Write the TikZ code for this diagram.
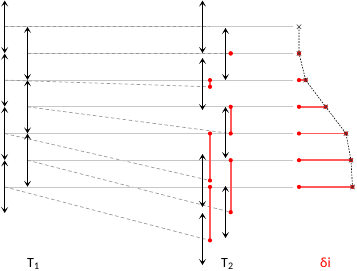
\documentclass[tikz,border=0pt]{standalone}
\usepackage{fontspec}
\setmainfont{Carlito}
\usetikzlibrary{arrows.meta,shapes.misc}
\newcommand{\lowsub}[1]{\raisebox{-2.2pt}{\fontsize{10}{10}\selectfont #1}}
\begin{document}
\begin{tikzpicture}[x=1pt,y=-1pt,
  period/.style={line width=1.2pt,
    {Stealth[length=6pt,width=7pt,inset=3pt]}-{Stealth[length=6pt,width=7pt,inset=3pt]}},
  gridline/.style={draw=black!22, line width=0.7pt},
  link/.style={draw=black!40, dash pattern=on 3.5pt off 2.5pt, line width=0.7pt},
  shiftline/.style={draw=red!65, line width=1.6pt},
  dot/.style={circle, fill=red, inner sep=0pt, minimum size=4.2pt},
  xmark/.style={cross out, draw=black!75, inner sep=0pt, minimum size=4pt, line width=0.5pt},
  trend/.style={draw=black, dash pattern=on 1.6pt off 1.3pt, line width=0.6pt},
  lbl/.style={font=\fontsize{14}{14}\selectfont, anchor=base west, inner sep=0pt}]
\useasboundingbox (0,0) rectangle (357,271);

% rows: index / T1 start x / T2 column x / shift delta
\foreach \i/\xa/\xb/\d in {1/4.7/210/0, 2/27.5/230.7/0, 3/4.7/210/6.7,
    4/27.5/230.7/26.7, 5/4.7/210/47, 6/27.5/230.7/52, 7/4.7/210/53.5}{
  \coordinate (a\i) at (\xa,26.7*\i);
  \coordinate (g\i) at (293,26.7*\i);
  \coordinate (c\i) at (\xb,26.7*\i);
  \coordinate (b\i) at (\xb,26.7*\i+\d);
  \coordinate (p\i) at (299,26.7*\i);
  \coordinate (q\i) at (299+\d,26.7*\i);
}

% reference lines
\foreach \i in {1,...,7}{
  \draw[gridline] (a\i) -- (g\i);
  \draw[link] (a\i) -- (b\i);
}

% shifts at T2 and in the delta column
\foreach \i in {3,...,7}{
  \draw[shiftline] (c\i) -- (b\i);
  \draw[shiftline] (p\i) -- (q\i);
}
\foreach \i in {2,...,7}{
  \node[dot] (cd\i) at (c\i) {};
  \node[dot] (bd\i) at (b\i) {};
  \node[dot] (pd\i) at (p\i) {};
  \node[dot] (qd\i) at (q\i) {};
}

% trend of delta
\draw[trend] (q1) -- (q2) -- (q3) -- (q4) -- (q5) -- (q6) -- (q7);
\foreach \i in {1,...,7}{
  \node[xmark] (x\i) at (q\i) {};
}

% periods T1 and T2
\foreach \n/\x/\ya/\yb in {l1/4.7/0.6/53.1, l2/4.7/53.6/106.6, l3/4.7/107/160, l4/4.7/160.4/213,
    r1/27.5/26.9/79.9, r2/27.5/80.3/133.3, r3/27.5/133.7/186.7,
    s1/202.5/0.6/53, s2/202.5/58/110, s3/202.5/154/207, s4/202.5/213/265,
    t1/225.5/28/80, t2/225.5/107/158, t3/225.5/186/238}{
  \coordinate (\n top) at (\x,\ya);
  \coordinate (\n bot) at (\x,\yb);
  \draw[period] (\n top) -- (\n bot);
}

\node[lbl] (T1) at (27,267.5) {T\lowsub{1}};
\node[lbl] (T2) at (221,267) {T\lowsub{2}};
\node[lbl,text=red] (di) at (320,267) {δi};
\end{tikzpicture}
\end{document}
